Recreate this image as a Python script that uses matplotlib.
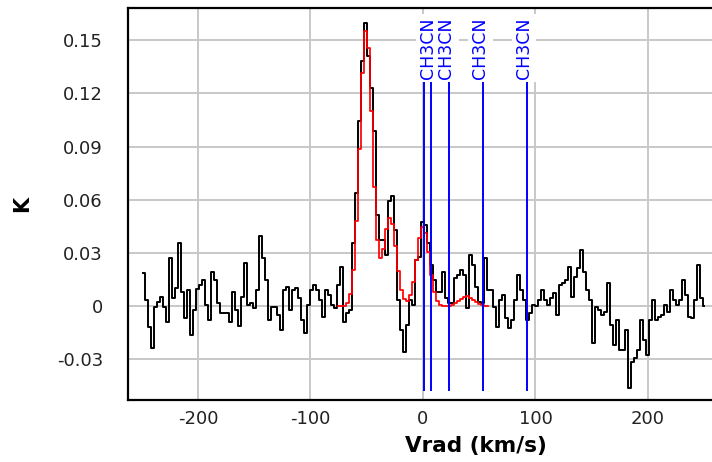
import numpy as np
import matplotlib
matplotlib.use("Agg")
import matplotlib.pyplot as plt

plt.rcParams["axes.unicode_minus"] = False

# channel grid of the spectrum (km/s)
v_first = -248.44
dv = 2.6667

spectrum_K = [
    0.0186, 0.0034, -0.0118, -0.0236, -0.0006, 0.0023, 0.0051, -0.0006, -0.0090, 0.0270,
    0.0045, 0.0101, 0.0354, 0.0079, -0.0068, 0.0090, -0.0163, -0.0023, 0.0096, 0.0118,
    0.0146, 0.0006, -0.0079, 0.0191, 0.0146, 0.0017, -0.0039, -0.0039, -0.0039, -0.0090,
    0.0079, -0.0023,
    -0.0113, 0.0051, 0.0242, 0.0006, 0.0017, -0.0011, 0.0090, 0.0394, 0.0270, 0.0146,
    -0.0079, -0.0006, -0.0006, -0.0051, -0.0135, 0.0090, 0.0107, -0.0023, 0.0090, 0.0101,
    0.0045, -0.0079, -0.0152, 0.0006, 0.0090, 0.0118, 0.0090, 0.0034, -0.0062, 0.0090,
    0.0062, 0.0006,
    -0.0011, 0.0118, 0.0219, -0.0090, -0.0039, -0.0023, 0.0354, 0.0641, 0.1046, 0.1384,
    0.1598, 0.1412, 0.1232, 0.0990, 0.0512, 0.0371, 0.0371, 0.0287, 0.0596, 0.0624,
    0.0428, 0.0034, -0.0135, -0.0259, -0.0107, 0.0034, 0.0006, 0.0259, 0.0276, 0.0473,
    0.0456, 0.0354,
    0.0231, 0.0146, 0.0079, 0.0079, 0.0191, 0.0045, 0.0017, 0.0017, 0.0158, 0.0174,
    0.0203, 0.0174, -0.0011, 0.0287, 0.0231, 0.0107, 0.0023, 0.0017, 0.0270, 0.0090,
    0.0090, -0.0006, -0.0118, 0.0034, 0.0062, -0.0068, -0.0124, -0.0079, 0.0034, 0.0174,
    0.0090, 0.0034,
    -0.0079, -0.0039, 0.0006, 0.0000, 0.0034, 0.0090, 0.0034, 0.0006, 0.0045, 0.0073,
    -0.0051, 0.0118, 0.0129, 0.0146, 0.0219, 0.0051, 0.0163, 0.0214, 0.0315, 0.0191,
    0.0090, 0.0034, -0.0208, -0.0006, -0.0023, -0.0051, -0.0034, 0.0129, -0.0107, -0.0219,
    -0.0079, -0.0248,
    -0.0248, -0.0135, -0.0461, -0.0315, -0.0293, -0.0248, -0.0079, -0.0191, -0.0276, -0.0079,
    0.0034, -0.0079, -0.0062, -0.0051, 0.0006, -0.0034, 0.0090, 0.0034, 0.0006, 0.0034,
    0.0146, 0.0062, -0.0062, -0.0068, 0.0034, 0.0231, 0.0045, 0.0000,
]

# fitted model (red), starting at channel index fit_first
fit_first = 65
fit_K = [
    0.0000, 0.0001, 0.0004, 0.0019, 0.0070, 0.0205, 0.0478, 0.0889, 0.1314, 0.1551,
    0.1459, 0.1100, 0.0674, 0.0375, 0.0270, 0.0322, 0.0434, 0.0500, 0.0462, 0.0339,
    0.0196, 0.0091, 0.0038, 0.0028, 0.0061, 0.0139, 0.0259, 0.0383, 0.0449, 0.0415,
    0.0303, 0.0175, 0.0080, 0.0029, 0.0008, 0.0002, 0.0001, 0.0003, 0.0008, 0.0016,
    0.0029, 0.0042, 0.0052, 0.0055, 0.0049, 0.0036, 0.0023, 0.0012, 0.0006, 0.0002,
    0.0001,
]

# rest-frame line markers (blue) and the labels that are visible
line_vel = [1.2, 7.1, 23.4, 53.6, 92.4]
label_vel = [7.1, 23.4, 53.6, 92.4]
label_names = ["CH3CN", "CH3CN", "CH3CN", "CH3CN"]
line_ymin, line_ymax = -0.0478, 0.1272

xticks = [-200, -100, 0, 100, 200]
yticks = [-0.03, 0, 0.03, 0.06, 0.09, 0.12, 0.15]
ytick_labels = ["-0.03", "0", "0.03", "0.06", "0.09", "0.12", "0.15"]

vel = v_first + dv * np.arange(len(spectrum_K))
fit_vel = vel[fit_first:fit_first + len(fit_K)]

fig = plt.figure(figsize=(7.12, 4.62), dpi=100)
# the original plot area is wider than the picture: it is cut at the right edge
ax = fig.add_axes([128 / 712, 62 / 462, (824 - 128) / 712, 392 / 462])
ax.set_xlim(-262.2, 356.5)
ax.set_ylim(-0.0529, 0.1682)

ax.grid(True, color="#c8c8c8", linewidth=1.4, zorder=0)
ax.set_axisbelow(True)

ax.step(vel, spectrum_K, where="mid", color="black", linewidth=1.4, zorder=3)
ax.step(fit_vel, fit_K, where="mid", color="#ff0000", linewidth=1.25, zorder=4)

ax.vlines(line_vel, line_ymin, line_ymax, color="#0000ff", linewidth=1.4, zorder=5)
for v, name in zip(label_vel, label_names):
    ax.text(v - 2.6, 0.1284, name, rotation=90, ha="center", va="bottom",
            color="#0000ff", fontsize=12.5,
            bbox=dict(facecolor="white", edgecolor="none", pad=2.5), zorder=6)

ax.set_xticks(xticks)
ax.set_yticks(yticks)
ax.set_yticklabels(ytick_labels)
ax.tick_params(axis="both", length=0, labelsize=13, colors="#222222")
ax.tick_params(axis="y", pad=18)
ax.tick_params(axis="x", pad=7)

for s in ["left", "top", "bottom"]:
    ax.spines[s].set_color("black")
    ax.spines[s].set_linewidth(1.6)
ax.spines["right"].set_visible(False)

ax.set_xlabel("Vrad (km/s)", fontsize=15.5, fontweight="bold", labelpad=6)
ax.set_ylabel("K", fontsize=15, fontweight="bold", labelpad=18)

fig.savefig("out.png", dpi=100)
